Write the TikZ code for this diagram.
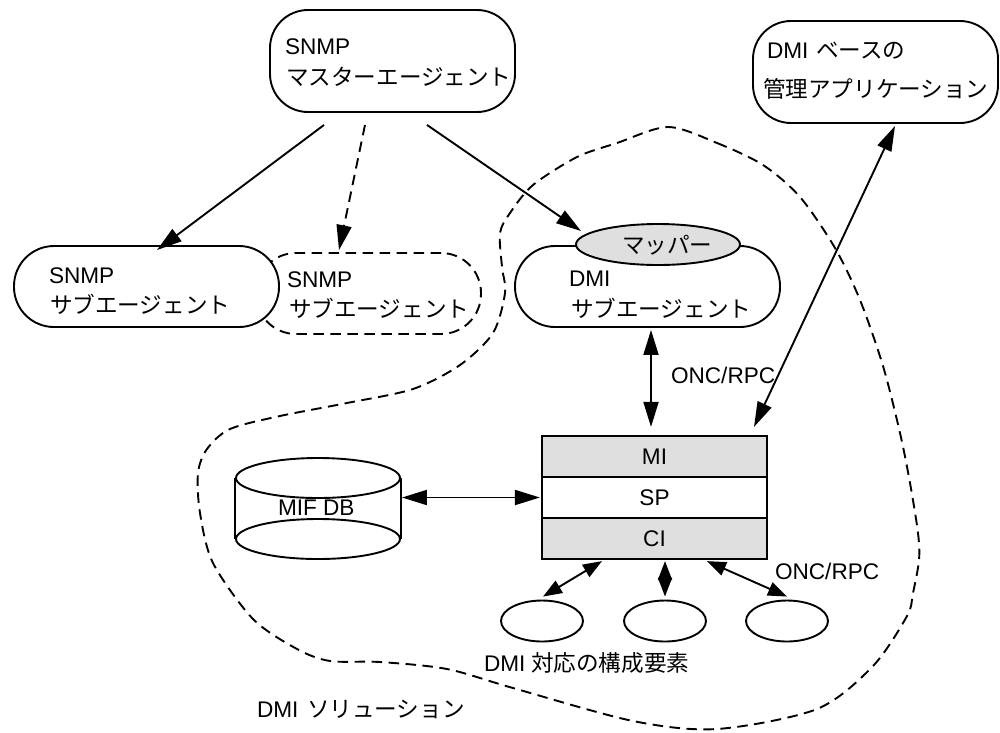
\documentclass[tikz,border=0pt]{standalone}
\usepackage{fontspec}
\setmainfont{Liberation Sans}
\newfontfamily\cjk{Noto Sans CJK JP}
\usetikzlibrary{arrows.meta,shapes.geometric,calc}
\definecolor{shade}{HTML}{DFDFDF}
\tikzset{
  ln/.style={line width=1.9pt},
  dsh/.style={dash pattern=on 10.5pt off 6.5pt},
  pill/.style={draw,ln,rectangle,inner sep=0pt,fill=white},
  cell/.style={draw,line width=2.2pt,rectangle,inner sep=0pt,minimum width=225pt,minimum height=41pt},
  oval/.style={draw,ln,ellipse,inner sep=0pt,fill=white},
  txt/.style={inner sep=0pt,outer sep=0pt,anchor=base west,font=\fontsize{22.6}{26}\selectfont},
  jp/.style={inner sep=0pt,outer sep=0pt,anchor=base west,font=\fontsize{22.6}{26}\selectfont\cjk},
  ar/.style={ln,-{Triangle[length=25pt,width=15pt]}},
  dbl/.style={ln,{Triangle[length=25pt,width=15pt]}-{Triangle[length=25pt,width=15pt]}},
  sdbl/.style={ln,{Triangle[length=19pt,width=14pt]}-{Triangle[length=19pt,width=14pt]}}
}
\begin{document}
\begin{tikzpicture}[x=1pt,y=-1pt]
\useasboundingbox (0,0) rectangle (1000,732);
% DMI solution boundary
\draw[ln,dsh] plot[smooth cycle,tension=0.5] coordinates {
 (668,127) (717,143) (763,165) (800,197) (835,248) (860,300) (883,366) (900,433) (910,483) (918,533) (919,560) (913,593) (907,616) (873,666) (817,709)
 (717,729) (633,721) (513,688) (447,669) (380,662) (330,661) (297,649) (253,619) (213,563) (200,513)
 (198,473) (207,449) (230,429) (280,416) (347,403) (413,389) (460,365) (493,333) (505,293) (502,267) (500,233)
 (510,213) (533,185) (577,157) (617,143)};
% boxes
\node[pill,dsh,fill=none,rounded corners=40pt,minimum width=225pt,minimum height=81pt] (subb) at (368.5,293.5) {};
\node[pill,rounded corners=40pt,minimum width=265pt,minimum height=81pt] (suba) at (146.5,286.5) {};
\node[pill,rounded corners=40pt,minimum width=265pt,minimum height=81pt] (dmisub) at (647.5,286.5) {};
\node[pill,rounded corners=38pt,minimum width=245pt,minimum height=102pt] (master) at (392.5,61) {};
\node[pill,rounded corners=38pt,minimum width=245pt,minimum height=102pt] (app) at (875.5,72) {};
\node[oval,fill=shade,minimum width=164pt,minimum height=41pt] (mapper) at (658,244.5) {};
\node[cell,fill=shade] (mi) at (654.5,456.5) {};
\node[cell,fill=white] (sp) at (654.5,497.5) {};
\node[cell,fill=shade] (ci) at (654.5,538.5) {};
\node[oval,minimum width=164pt,minimum height=40pt] (dbbot) at (318,539) {};
\node[oval,fill=none,minimum width=164pt,minimum height=40pt] (dbtop) at (318,478) {};
\draw[ln] (dbtop.west) -- (dbbot.west);
\draw[ln] (dbtop.east) -- (dbbot.east);
\node[oval,minimum width=82pt,minimum height=41pt] (compa) at (542,621) {};
\node[oval,minimum width=82pt,minimum height=41pt] (compb) at (665,621) {};
\node[oval,minimum width=82pt,minimum height=41pt] (compc) at (787,621) {};
% connectors
\draw[ar] ($(master.south)+(-68.5,12)$) -- ($(suba.north)+(10.5,5)$);
\draw[ar,dsh] ($(master.south)+(-27.5,12)$) -- ($(subb.north)+(-29.5,-2)$);
\draw[ar] ($(master.south)+(34.5,12)$) -- ($(mapper.west)+(6,-13.5)$);
\draw[dbl] ($(dmisub.south)+(3.5,2)$) -- ($(mi.north)+(-3.5,-8)$);
\draw[dbl] ($(app.south)+(19.5,2)$) -- ($(mi.north)+(99.5,-8)$);
\draw[dbl] ($(dbtop.east)+(1,19.5)$) -- ($(sp.west)+(-1,0)$);
\draw[sdbl] ($(compa.north)+(1,-3)$) -- ($(ci.south)+(-52.5,1)$);
\draw[sdbl] ($(compb.north)+(0,-3)$) -- ($(ci.south)+(10.5,1)$);
\draw[sdbl] ($(compc.north)+(0,-3)$) -- ($(ci.south)+(52.5,1)$);
% texts
\node[txt] (t1) at (285,54.5) {SNMP};
\node[jp] (t2) at (286,85) {マスターエージェント};
\node[txt] (t3) at (49,283) {SNMP};
\node[jp] (t4) at (50,313) {サブエージェント};
\node[txt] (t5) at (287,287) {SNMP};
\node[jp] (t6) at (289,317) {サブエージェント};
\node[txt] (t7) at (569,286) {DMI};
\node[jp] (t8) at (571,317) {サブエージェント};
\node[jp] (t9) at (622,253) {マッパー};
\node[txt] (t10) at (767,58) {DMI};
\node[jp] (t11) at (816,58) {ベースの};
\node[jp] (t12) at (763,97) {管理アプリケーション};
\node[txt,anchor=base] (t13) at (mi.center |- 0,464) {MI};
\node[txt,anchor=base] (t14) at (sp.center |- 0,505) {SP};
\node[txt,anchor=base] (t15) at (ci.center |- 0,546) {CI};
\node[txt] (t16) at (278,515) {MIF DB};
\node[txt] (t17) at (671,383) {ONC/RPC};
\node[txt] (t18) at (775,579) {ONC/RPC};
\node[txt] (t19) at (484,671) {DMI};
\node[jp] (t20) at (531,671) {対応の構成要素};
\node[txt] (t21) at (257,717) {DMI};
\node[jp] (t22) at (307,717) {ソリューション};
\end{tikzpicture}
\end{document}
